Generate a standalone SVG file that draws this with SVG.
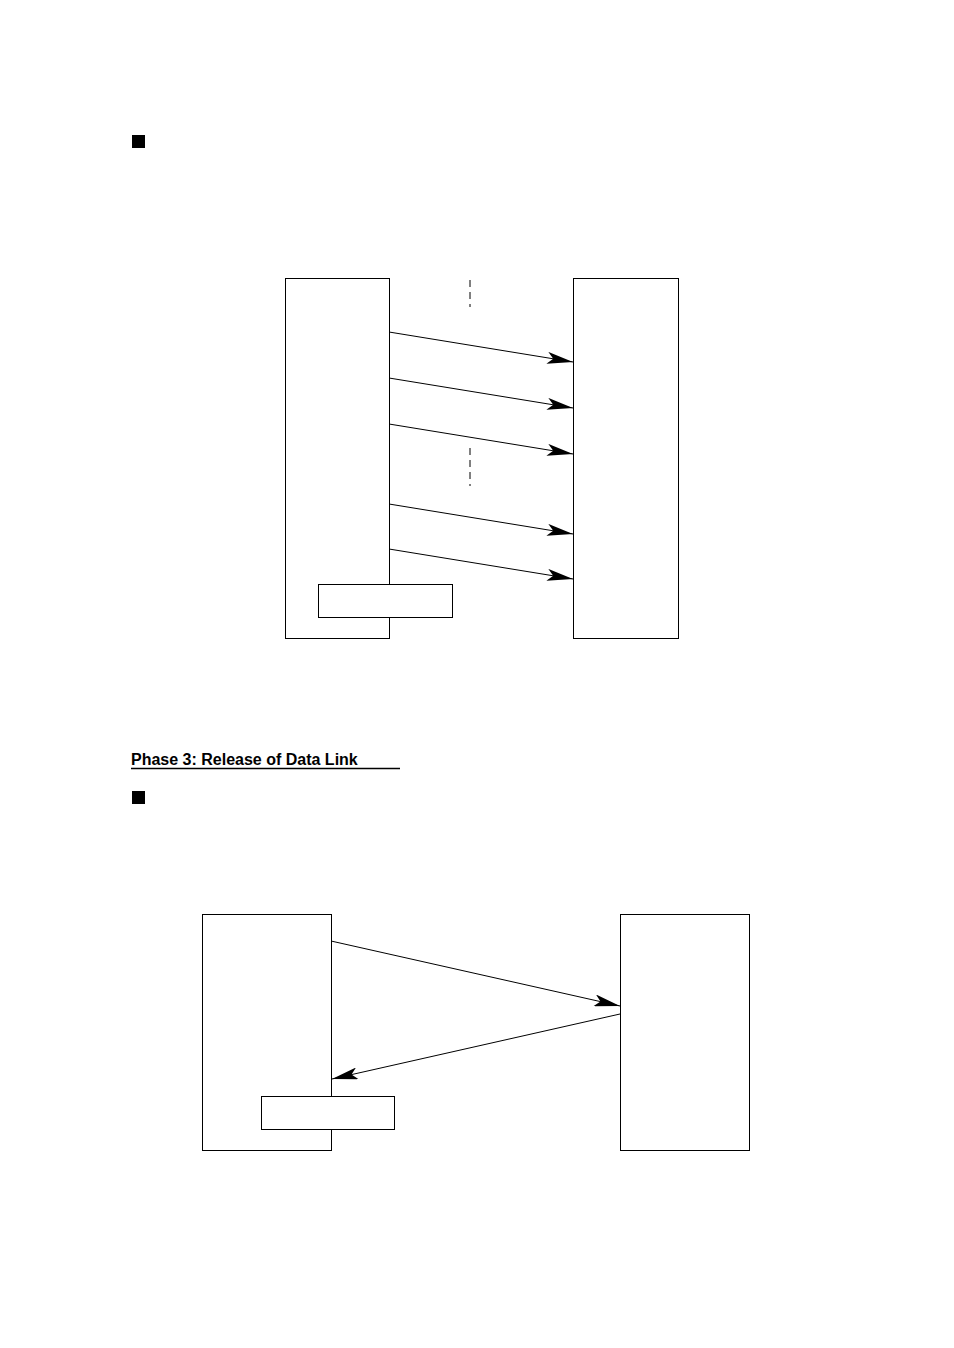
<svg xmlns="http://www.w3.org/2000/svg" width="954" height="1348" viewBox="0 0 954 1348">
<style>
.box{fill:#fff;stroke:#000;stroke-width:1}
.ln{stroke:#000;stroke-width:1;fill:none}
.dash{stroke:#000;stroke-width:1;stroke-dasharray:7,5}
.t{font-family:"Liberation Sans",Arial,sans-serif;font-weight:bold;font-size:16px}
</style>
<defs>
<marker id="ah" markerWidth="26" markerHeight="12" refX="26" refY="6" orient="auto" markerUnits="userSpaceOnUse">
<path d="M0,0 L26,6 L0,12 L6,6 Z" fill="#000"/>
</marker>
</defs>
<rect x="132" y="135" width="13" height="13" fill="#000"/>
<rect x="132" y="791" width="13" height="13" fill="#000"/>
<text class="t" x="131" y="765">Phase 3:  Release of Data Link</text>
<line x1="131" y1="768.5" x2="400" y2="768.5" stroke="#000" stroke-width="1.3"/>
<g id="a1"><rect class="box" x="285.5" y="278.5" width="104" height="360"/></g>
<g id="b1"><rect class="box" x="573.5" y="278.5" width="105" height="360"/></g>
<g id="l1"><rect class="box" x="318.5" y="584.5" width="134" height="33"/></g>
<g id="a2"><rect class="box" x="202.5" y="914.5" width="129" height="236"/></g>
<g id="b2"><rect class="box" x="620.5" y="914.5" width="129" height="236"/></g>
<g id="l2"><rect class="box" x="261.5" y="1096.5" width="133" height="33"/></g>
<g id="connectors">
<line class="dash" x1="470" y1="280" x2="470" y2="307"/>
<line class="dash" x1="470" y1="448" x2="470" y2="486"/>
<line class="ln" x1="389" y1="332" x2="573" y2="362" marker-end="url(#ah)"/>
<line class="ln" x1="389" y1="378" x2="573" y2="408" marker-end="url(#ah)"/>
<line class="ln" x1="389" y1="424" x2="573" y2="454" marker-end="url(#ah)"/>
<line class="ln" x1="389" y1="504" x2="573" y2="534" marker-end="url(#ah)"/>
<line class="ln" x1="389" y1="549" x2="573" y2="579" marker-end="url(#ah)"/>
<line class="ln" x1="331" y1="941" x2="620" y2="1006" marker-end="url(#ah)"/>
<line class="ln" x1="620" y1="1014" x2="332" y2="1079" marker-end="url(#ah)"/>
</g>
</svg>
